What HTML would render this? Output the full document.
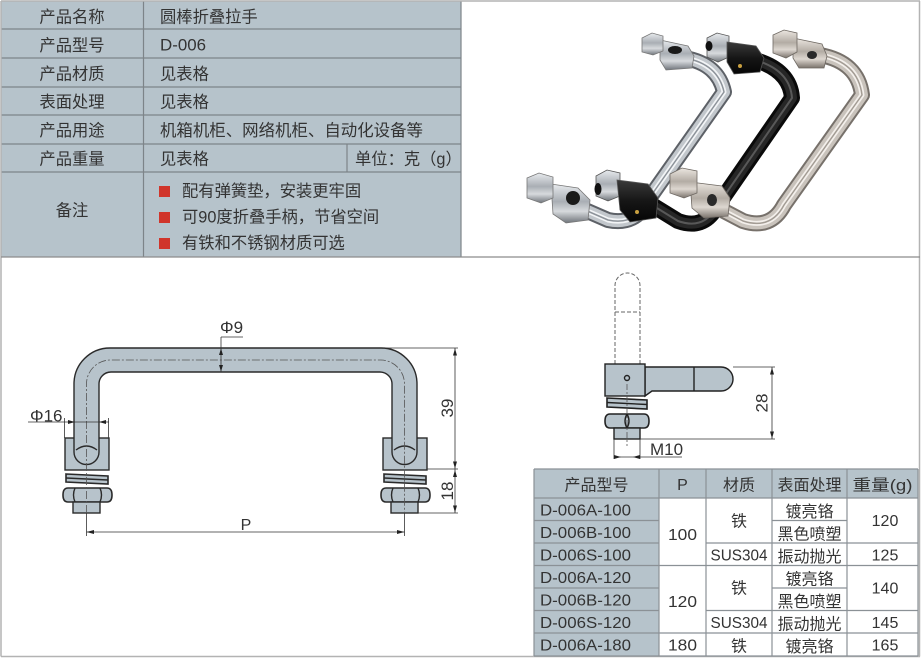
<!DOCTYPE html>
<html><head><meta charset="utf-8">
<style>
html,body{margin:0;padding:0;background:#fff;}
svg{display:block;}
text{font-family:"Liberation Sans","Noto Sans CJK SC",sans-serif;fill:#333;}
</style></head><body>
<svg width="922" height="662" viewBox="0 0 922 662" xmlns="http://www.w3.org/2000/svg">
<defs>
<linearGradient id="gS" x1="0" y1="0" x2="0" y2="1">
<stop offset="0" stop-color="#e8ebee"/><stop offset="0.45" stop-color="#a9aeb4"/><stop offset="0.7" stop-color="#d7dadd"/><stop offset="1" stop-color="#6f747a"/>
</linearGradient>
<linearGradient id="gN" x1="0" y1="0" x2="0" y2="1">
<stop offset="0" stop-color="#ece7e1"/><stop offset="0.45" stop-color="#b3aca4"/><stop offset="0.7" stop-color="#ddd7d0"/><stop offset="1" stop-color="#7a736c"/>
</linearGradient>
<linearGradient id="gB" x1="0" y1="0" x2="0" y2="1">
<stop offset="0" stop-color="#3a3a3a"/><stop offset="0.5" stop-color="#161616"/><stop offset="1" stop-color="#050505"/>
</linearGradient>
</defs>
<rect width="922" height="662" fill="#fff"/>

<!-- ===== top-left spec table ===== -->
<rect x="1" y="1" width="460" height="256" fill="#b6c3cb"/>
<g stroke="#7d8489" stroke-width="1.2">
<line x1="1" y1="29" x2="461" y2="29"/>
<line x1="1" y1="58" x2="461" y2="58"/>
<line x1="1" y1="87" x2="461" y2="87"/>
<line x1="1" y1="115" x2="461" y2="115"/>
<line x1="1" y1="144" x2="461" y2="144"/>
<line x1="1" y1="172" x2="461" y2="172"/>
<line x1="143.5" y1="1" x2="143.5" y2="257"/>
<line x1="347" y1="144" x2="347" y2="172"/>
<line x1="461" y1="1" x2="461" y2="257"/>
</g>
<g font-size="16.3" text-anchor="middle">
<text x="72" y="22.5">产品名称</text>
<text x="72" y="51">产品型号</text>
<text x="72" y="79.5">产品材质</text>
<text x="72" y="107.5">表面处理</text>
<text x="72" y="136">产品用途</text>
<text x="72" y="164.5">产品重量</text>
<text x="72" y="216">备注</text>
</g>
<g font-size="16.3">
<text x="160" y="22.5">圆棒折叠拉手</text>
<text x="160" y="50.5" textLength="46" lengthAdjust="spacingAndGlyphs">D-006</text>
<text x="160" y="79.5">见表格</text>
<text x="160" y="107.5">见表格</text>
<text x="160" y="136" textLength="263" lengthAdjust="spacingAndGlyphs">机箱机柜、网络机柜、自动化设备等</text>
<text x="160" y="164.5">见表格</text>
<text x="355" y="164.5">单位：克（g）</text>
<text x="182" y="196.5">配有弹簧垫，安装更牢固</text>
<text x="182" y="222.5">可90度折叠手柄，节省空间</text>
<text x="182" y="248.5">有铁和不锈钢材质可选</text>
</g>
<g fill="#d0352b">
<rect x="159" y="186" width="11" height="11"/>
<rect x="159" y="212" width="11" height="11"/>
<rect x="159" y="238" width="11" height="11"/>
</g>

<!-- ===== outer border & separator ===== -->
<g fill="none" stroke="#b3b3b3" stroke-width="1.5">
<line x1="1" y1="1" x2="920" y2="1"/>
<line x1="1" y1="1" x2="1" y2="656.5"/>
<line x1="919.5" y1="1" x2="919.5" y2="656.5"/>
<line x1="1" y1="656.5" x2="920" y2="656.5"/>
</g>
<line x1="1" y1="257" x2="920" y2="257" stroke="#8c8c8c" stroke-width="1.2"/>

<!-- ===== photo ===== -->
<!-- chrome handle -->
<g fill="none" stroke-linejoin="round">
<path d="M685,58 Q718,64 724,92 L648,200 Q636,226 608,220 L585,210" stroke="#5d6167" stroke-width="16"/>
<path d="M685,58 Q718,64 724,92 L648,200 Q636,226 608,220 L585,210" stroke="#c2c7cc" stroke-width="12"/>
<path d="M685,58 Q718,64 724,92 L648,200 Q636,226 608,220 L585,210" stroke="#f2f4f6" stroke-width="5"/>
<path d="M685,58 Q718,64 724,92 L648,200 Q636,226 608,220 L585,210" stroke="#8d939a" stroke-width="1.5"/>
</g>
<g stroke="#777" stroke-width="0.8">
<polygon points="660,40 688,46 694,56 692,68 666,70 660,60" fill="url(#gS)"/>
<polygon points="642,38 652,33 663,36 663,51 653,55 642,52" fill="url(#gS)"/>
<polygon points="551,184 578,188 590,200 588,220 566,223 553,214" fill="url(#gS)"/>
<polygon points="527,178 539,173 553,177 553,198 541,203 527,198" fill="url(#gS)"/>
</g>
<ellipse cx="675" cy="50" rx="7" ry="4" fill="#1a1a1a"/>
<ellipse cx="573" cy="198" rx="7" ry="7" fill="#1a1a1a"/>
<!-- black handle -->
<g fill="none" stroke-linejoin="round">
<path d="M755,60 Q790,70 792,98 L716,208 Q703,230 678,221 L652,205" stroke="#0a0a0a" stroke-width="16"/>
<path d="M755,60 Q790,70 792,98 L716,208 Q703,230 678,221 L652,205" stroke="#262626" stroke-width="10"/>
<path d="M755,60 Q790,70 792,98 L716,208 Q703,230 678,221 L652,205" stroke="#585858" stroke-width="2"/>
</g>
<g stroke="#555" stroke-width="0.8">
<polygon points="707,38 717,33 729,36 729,57 718,62 707,57" fill="url(#gS)"/>
<polygon points="727,42 756,46 764,58 760,72 734,74 727,62" fill="url(#gB)"/>
<polygon points="596,176 607,170 620,173 620,196 608,201 596,196" fill="url(#gS)"/>
<polygon points="617,180 648,184 658,198 656,218 630,222 620,210" fill="url(#gB)"/>
</g>
<ellipse cx="709" cy="46" rx="3.5" ry="5" fill="#111"/>
<ellipse cx="598" cy="189" rx="3.5" ry="6" fill="#111"/>
<circle cx="740" cy="66" r="2" fill="#c9a040"/>
<circle cx="637" cy="212" r="2" fill="#c9a040"/>
<!-- nickel handle -->
<g fill="none" stroke-linejoin="round">
<path d="M820,55 Q858,62 862,95 L784,205 Q771,230 743,221 L722,210" stroke="#77716b" stroke-width="16"/>
<path d="M820,55 Q858,62 862,95 L784,205 Q771,230 743,221 L722,210" stroke="#c9c3bc" stroke-width="12"/>
<path d="M820,55 Q858,62 862,95 L784,205 Q771,230 743,221 L722,210" stroke="#f3efeb" stroke-width="5"/>
<path d="M820,55 Q858,62 862,95 L784,205 Q771,230 743,221 L722,210" stroke="#a39c94" stroke-width="1.5"/>
</g>
<g stroke="#6e6862" stroke-width="0.8">
<polygon points="793,38 822,44 827,56 824,68 799,68 793,58" fill="url(#gN)"/>
<polygon points="773,35 784,30 797,33 797,52 786,58 773,53" fill="url(#gN)"/>
<polygon points="690,182 722,186 730,198 728,216 704,218 692,208" fill="url(#gN)"/>
<polygon points="670,174 682,168 697,171 697,193 684,198 670,193" fill="url(#gN)"/>
</g>
<ellipse cx="812" cy="55" rx="5" ry="4" fill="#2a2a2a"/>
<ellipse cx="712" cy="200" rx="5" ry="6" fill="#2a2a2a"/>

<!-- ===== left drawing ===== -->
<g stroke="#2a2a2a" stroke-width="1.4" fill="#b7c3cb">
<rect x="65" y="438" width="44" height="32"/>
<rect x="383" y="438" width="44" height="32"/>
<path d="M74,452 V384 A36 36 0 0 1 110,348 H381 A36 36 0 0 1 417,384 V452 A12.5 12.5 0 0 1 392,452 V384 A12 12 0 0 0 380,372 H111 A12 12 0 0 0 99,384 V452 A12.5 12.5 0 0 1 74,452 Z"/>
<path d="M76,450 Q86.5,442 97,450" fill="none"/>
<path d="M394,450 Q404.5,442 415,450" fill="none"/>
<!-- washers -->
<polygon points="66,474 108,476 108,484 66,482" stroke-width="1.6"/>
<line x1="66" y1="478" x2="108" y2="480"/>
<polygon points="384,474 426,476 426,484 384,482" stroke-width="1.6"/>
<line x1="384" y1="478" x2="426" y2="480"/>
<!-- nuts -->
<path d="M68,488 H107 Q112,488 112,495 Q112,502 107,502 H68 Q63,502 63,495 Q63,488 68,488 Z" stroke-width="1.6"/>
<path d="M75,488 Q72,495 75,502 M100,488 Q103,495 100,502" fill="none"/>
<path d="M386,488 H425 Q430,488 430,495 Q430,502 425,502 H386 Q381,502 381,495 Q381,488 386,488 Z" stroke-width="1.6"/>
<path d="M393,488 Q390,495 393,502 M418,488 Q421,495 418,502" fill="none"/>
<!-- bolts -->
<rect x="73" y="502" width="27" height="11"/>
<rect x="391" y="502" width="27" height="11"/>
</g>
<path d="M86.5,513 V384 A24 24 0 0 1 110.5,360 H380.5 A24 24 0 0 1 404.5,384 V513" fill="none" stroke="#555" stroke-width="0.8" stroke-dasharray="8,2,2,2"/>
<!-- dims -->
<g stroke="#333" stroke-width="0.8" fill="none">
<line x1="86.5" y1="513" x2="86.5" y2="536"/>
<line x1="404.5" y1="513" x2="404.5" y2="536"/>
<line x1="86.5" y1="532" x2="404.5" y2="532"/>
<line x1="221" y1="337" x2="221" y2="372"/>
<line x1="221" y1="337" x2="243" y2="337"/>
<line x1="28" y1="422" x2="109" y2="422"/>
<line x1="64.5" y1="418" x2="64.5" y2="438"/>
<line x1="108.5" y1="418" x2="108.5" y2="438"/>
<line x1="383" y1="348" x2="458" y2="348"/>
<line x1="427" y1="469" x2="458" y2="469"/>
<line x1="418" y1="513" x2="458" y2="513"/>
<line x1="455" y1="348" x2="455" y2="513"/>
</g>
<g fill="#222">
<polygon points="86.5,532 94,530 94,534"/>
<polygon points="404.5,532 397,530 397,534"/>
<polygon points="221,348.5 219,355 223,355"/>
<polygon points="221,371.5 219,365 223,365"/>
<polygon points="75,422 68,420 68,424"/>
<polygon points="99,422 106,420 106,424"/>
<polygon points="455,348.5 453,355.5 457,355.5"/>
<polygon points="455,468.5 453,461.5 457,461.5"/>
<polygon points="455,470 453,477 457,477"/>
<polygon points="455,512.5 453,505.5 457,505.5"/>
</g>
<g font-size="17">
<text x="220" y="333">Φ9</text>
<text x="30" y="421.5">Φ16</text>
<text x="246" y="530" text-anchor="middle" font-size="16">P</text>
<text transform="translate(453,408) rotate(-90)" text-anchor="middle">39</text>
<text transform="translate(453,491) rotate(-90)" text-anchor="middle">18</text>
</g>

<!-- ===== right drawing ===== -->
<g stroke="#666" stroke-width="1" fill="none" stroke-dasharray="4,2">
<path d="M615,364 V285.5 A12.5 12.5 0 0 1 640,285.5 V364"/>
<line x1="615" y1="312" x2="640" y2="312"/>
</g>
<g stroke="#222" stroke-width="1.4" fill="#b7c3cb">
<path d="M645,367 H721 A12 12 0 0 1 721,391 H652 L645,396 Z"/>
<rect x="605" y="364" width="40" height="32"/>
<line x1="694" y1="367" x2="694" y2="391"/>
<circle cx="627" cy="378" r="2.5"/>
<polygon points="607,398 647,400 647,409 607,407" stroke-width="1.6"/>
<line x1="607" y1="402.5" x2="647" y2="404.5"/>
<path d="M610,414 H644 Q649,414 649,421 Q649,428 644,428 H610 Q605,428 605,421 Q605,414 610,414 Z" stroke-width="1.6"/>
<path d="M627,414 Q623,421 627,428 Q631,421 627,414" fill="none"/>
<rect x="614" y="428" width="26" height="11"/>
</g>
<line x1="627" y1="384" x2="627" y2="446" stroke="#555" stroke-width="0.8" stroke-dasharray="6,2,2,2"/>
<g stroke="#333" stroke-width="0.8" fill="none">
<line x1="733" y1="367" x2="775" y2="367"/>
<line x1="640" y1="439" x2="775" y2="439"/>
<line x1="772" y1="367" x2="772" y2="439"/>
<line x1="614" y1="439" x2="614" y2="459"/>
<line x1="640" y1="439" x2="640" y2="459"/>
<line x1="614" y1="457" x2="682" y2="457"/>
</g>
<g fill="#222">
<polygon points="772,367.5 770,374.5 774,374.5"/>
<polygon points="772,438.5 770,431.5 774,431.5"/>
<polygon points="621,457 614,455 614,459"/>
<polygon points="633,457 640,455 640,459"/>
</g>
<g font-size="17">
<text x="650" y="455">M10</text>
<text transform="translate(767.5,403) rotate(-90)" text-anchor="middle">28</text>
</g>

<!-- ===== bottom table ===== -->
<rect x="534" y="469" width="384" height="29" fill="#b6c3cb"/>
<rect x="534" y="498" width="125" height="158" fill="#b6c3cb"/>
<g stroke="#8b9196" stroke-width="1.2">
<line x1="534" y1="469" x2="918" y2="469"/>
<line x1="534" y1="498" x2="918" y2="498"/>
<line x1="534" y1="520.5" x2="659" y2="520.5"/>
<line x1="772" y1="520.5" x2="847" y2="520.5"/>
<line x1="534" y1="543" x2="659" y2="543"/>
<line x1="706" y1="543" x2="918" y2="543"/>
<line x1="534" y1="565.5" x2="918" y2="565.5"/>
<line x1="534" y1="588" x2="659" y2="588"/>
<line x1="772" y1="588" x2="847" y2="588"/>
<line x1="534" y1="610.5" x2="659" y2="610.5"/>
<line x1="706" y1="610.5" x2="918" y2="610.5"/>
<line x1="534" y1="633" x2="918" y2="633"/>
<line x1="534" y1="656" x2="918" y2="656"/>
<line x1="534" y1="469" x2="534" y2="656"/>
<line x1="659" y1="469" x2="659" y2="656"/>
<line x1="706" y1="469" x2="706" y2="656"/>
<line x1="772" y1="469" x2="772" y2="656"/>
<line x1="847" y1="469" x2="847" y2="656"/>
<line x1="918" y1="469" x2="918" y2="656"/>
</g>
<g font-size="16" text-anchor="middle">
<text x="596.5" y="490.5">产品型号</text>
<text x="682.5" y="490">P</text>
<text x="739" y="490.5">材质</text>
<text x="809.5" y="490.5">表面处理</text>
<text x="882.5" y="490.5" textLength="60" lengthAdjust="spacingAndGlyphs">重量(g)</text>
<text x="682.5" y="540" textLength="29" lengthAdjust="spacingAndGlyphs">100</text>
<text x="682.5" y="607" textLength="29" lengthAdjust="spacingAndGlyphs">120</text>
<text x="682.5" y="650.5" textLength="29" lengthAdjust="spacingAndGlyphs">180</text>
<text x="739" y="526.5">铁</text>
<text x="739" y="560.5" textLength="57" lengthAdjust="spacingAndGlyphs">SUS304</text>
<text x="739" y="593.5">铁</text>
<text x="739" y="628" textLength="57" lengthAdjust="spacingAndGlyphs">SUS304</text>
<text x="739" y="651.5">铁</text>
<text x="809.5" y="517">镀亮铬</text>
<text x="809.5" y="539.5">黑色喷塑</text>
<text x="809.5" y="562">振动抛光</text>
<text x="809.5" y="584.5">镀亮铬</text>
<text x="809.5" y="607">黑色喷塑</text>
<text x="809.5" y="629.5">振动抛光</text>
<text x="809.5" y="652">镀亮铬</text>
<text x="885" y="526">120</text>
<text x="885" y="560.5">125</text>
<text x="885" y="593.5">140</text>
<text x="885" y="628">145</text>
<text x="885" y="650.5">165</text>
</g>
<g font-size="16">
<text x="540" y="515.5" textLength="91" lengthAdjust="spacingAndGlyphs">D-006A-100</text>
<text x="540" y="538" textLength="91" lengthAdjust="spacingAndGlyphs">D-006B-100</text>
<text x="540" y="560.5" textLength="91" lengthAdjust="spacingAndGlyphs">D-006S-100</text>
<text x="540" y="583" textLength="91" lengthAdjust="spacingAndGlyphs">D-006A-120</text>
<text x="540" y="605.5" textLength="91" lengthAdjust="spacingAndGlyphs">D-006B-120</text>
<text x="540" y="628" textLength="91" lengthAdjust="spacingAndGlyphs">D-006S-120</text>
<text x="540" y="650.5" textLength="91" lengthAdjust="spacingAndGlyphs">D-006A-180</text>
</g>
</svg>
</body></html>
